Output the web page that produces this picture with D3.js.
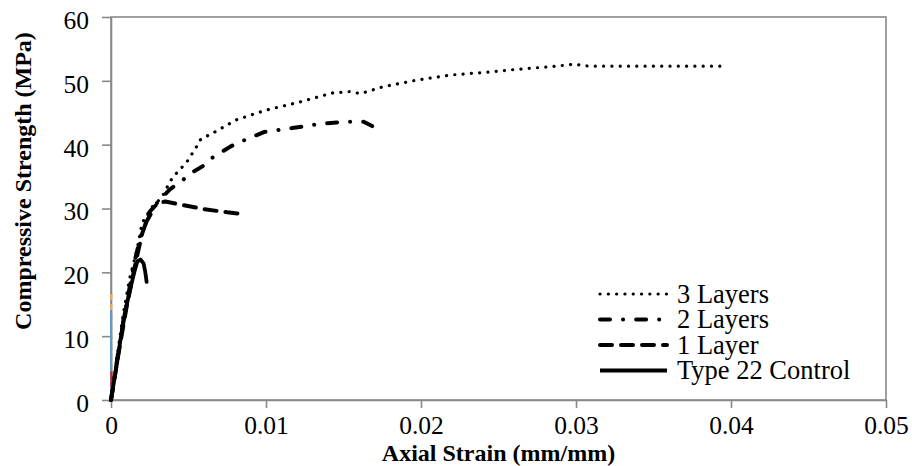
<!DOCTYPE html>
<html>
<head>
<meta charset="utf-8">
<script src="https://cdn.jsdelivr.net/npm/d3@7"></script>
<style>
    body { margin: 0; background: #fff; }
    svg { display: block; }
    .axis path, .axis line { stroke: #898989; stroke-width: 1.6; }
</style>
</head>
<body>
<svg id="chart"></svg>
<script>
// Series values: [axial strain, compressive strength].
const threeLayers = [
    [0, 0], [0.0004, 7], [0.0008, 13.6], [0.0012, 19], [0.0017, 23.8], [0.002, 27.7],
    [0.0026, 30.1], [0.0033, 31.8], [0.0038, 34.2], [0.0041, 35.2], [0.0049, 37.3],
    [0.0056, 40.0], [0.0058, 40.9], [0.0064, 41.6], [0.0081, 43.9], [0.01, 45.4],
    [0.0122, 46.7], [0.0143, 48.1], [0.0154, 48.3], [0.0161, 48.0], [0.0176, 49.1],
    [0.0197, 50.1], [0.0219, 50.9], [0.024, 51.3], [0.0262, 51.8], [0.0283, 52.2],
    [0.0299, 52.6], [0.0308, 52.3], [0.0394, 52.3],
];
const twoLayers = [
    [0, 0], [0.0005, 8], [0.001, 15], [0.0015, 21.5], [0.0019, 25.5], [0.0023, 28],
    [0.003, 31], [0.0038, 33], [0.0045, 34.2], [0.0052, 35.6], [0.0059, 36.6],
    [0.0065, 37.9], [0.0077, 39.7], [0.0084, 40.5], [0.0099, 42.0], [0.0117, 42.6],
    [0.0136, 43.3], [0.0153, 43.6], [0.0163, 43.6], [0.0171, 42.6], [0.0175, 41.8],
];
const oneLayer = [
    [0, 0], [0.0005, 7.5], [0.001, 14.5], [0.0015, 20.5], [0.002, 26], [0.0025, 29.5],
    [0.003, 30.8], [0.0035, 31.1], [0.0045, 30.6], [0.006, 29.9], [0.0075, 29.4], [0.0086, 29.1],
];
const control = [
    [0, 0], [0.0004, 6], [0.0008, 12.5], [0.0012, 17], [0.0015, 20], [0.0017, 21.7],
    [0.0019, 22], [0.0021, 21.4], [0.0022, 20.2], [0.0023, 18.5],
];
// Stray series hugging the y axis.
const strayOrange = [[0.00002, 0], [0.00002, 17]];
const strayBlue = [[0.00001, 0], [0.00001, 14]];
const strayRed = [[0.00003, 2], [0.00003, 4.5]];

const xTicks = [0, 0.01, 0.02, 0.03, 0.04, 0.05];
const yTicks = [0, 10, 20, 30, 40, 50, 60];
const legendNames = ['3 Layers', '2 Layers', '1 Layer', 'Type 22 Control'];

const SERIF = "'Liberation Serif', 'Times New Roman', serif";

// Chart dimensions.
const width = 912, height = 466;
const marginTop = 17, marginBottom = 66, marginLeft = 111, marginRight = 26;

const svg = d3.select('#chart').attr('width', width).attr('height', height);

// X scale.
const x = d3.scaleLinear().domain([0, 0.05]).range([marginLeft, width - marginRight]);

// Y scale.
const y = d3.scaleLinear().domain([0, 60]).range([height - marginBottom, marginTop]);

// Plot border.
svg.append('rect')
    .attr('x', marginLeft)
    .attr('y', marginTop)
    .attr('width', width - marginRight - marginLeft)
    .attr('height', height - marginBottom - marginTop)
    .attr('fill', 'none')
    .attr('stroke', '#898989')
    .attr('stroke-width', 1.6);

// Add the x-axis.
svg.append('g')
    .attr('class', 'axis')
    .attr('transform', `translate(0, ${height - marginBottom})`)
    .call(d3.axisBottom(x).tickValues(xTicks).tickSize(8).tickPadding(8).tickSizeOuter(0)
        .tickFormat(d => (d === 0 ? '0' : d.toFixed(2))));

// Add the y-axis.
svg.append('g')
    .attr('class', 'axis')
    .attr('transform', `translate(${marginLeft}, 0)`)
    .call(d3.axisLeft(y).tickValues(yTicks).tickSize(9).tickPadding(13).tickSizeOuter(0))
    .selectAll('text')
    .attr('dy', '0.45em');

svg.selectAll('.axis')
    .attr('font-family', SERIF)
    .attr('font-size', 25.5)
    .selectAll('text')
    .attr('fill', '#000');

// Axis titles.
svg.append('text')
    .attr('font-family', SERIF)
    .attr('font-size', 24)
    .attr('font-weight', 'bold')
    .attr('text-anchor', 'middle')
    .attr('x', (marginLeft + width - marginRight) / 2)
    .attr('y', 461)
    .text('Axial Strain (mm/mm)');

svg.append('text')
    .attr('font-family', SERIF)
    .attr('font-size', 24)
    .attr('font-weight', 'bold')
    .attr('text-anchor', 'middle')
    .attr('transform', 'translate(31, 181) rotate(-90)')
    .text('Compressive Strength (MPa)');

const line = d3.line().x(d => x(d[0])).y(d => y(d[1]));

const styles = [
    { data: threeLayers, width: 3.2, dash: '0.1 8.2' },
    { data: twoLayers, width: 4, dash: '10 13 0.1 13' },
    { data: oneLayer, width: 4, dash: '12 9' },
    { data: control, width: 3.8, dash: null },
];

// Stray colored series.
[[strayOrange, '#f4a55c', '6 4'], [strayBlue, '#5b9bd5', null], [strayRed, '#d62020', null]].forEach(([d, c, dash]) => {
    svg.append('path')
        .attr('d', line(d))
        .attr('fill', 'none')
        .attr('stroke', c)
        .attr('stroke-width', 2.2)
        .attr('stroke-dasharray', dash);
});

// Add the lines.
svg.append('g')
    .selectAll('path')
    .data(styles)
    .enter()
    .append('path')
    .attr('d', s => line(s.data))
    .attr('fill', 'none')
    .attr('stroke', '#000')
    .attr('stroke-width', s => s.width)
    .attr('stroke-linecap', 'round')
    .attr('stroke-linejoin', 'round')
    .attr('stroke-dasharray', s => s.dash);

// Legend.
const legend = svg.append('g').attr('font-family', SERIF).attr('font-size', 26.5);
const rowY = d3.scalePoint().domain(legendNames).range([294, 370.5]);
legendNames.forEach((name, i) => {
    const s = styles[i];
    legend.append('line')
        .attr('x1', 600)
        .attr('x2', 667)
        .attr('y1', rowY(name))
        .attr('y2', rowY(name))
        .attr('stroke', '#000')
        .attr('stroke-width', s.width)
        .attr('stroke-linecap', s.dash ? 'round' : 'butt')
        .attr('stroke-dasharray', s.dash);
    legend.append('text')
        .attr('x', 677)
        .attr('y', rowY(name) + 8.5)
        .text(name);
});
</script>
</body>
</html>
